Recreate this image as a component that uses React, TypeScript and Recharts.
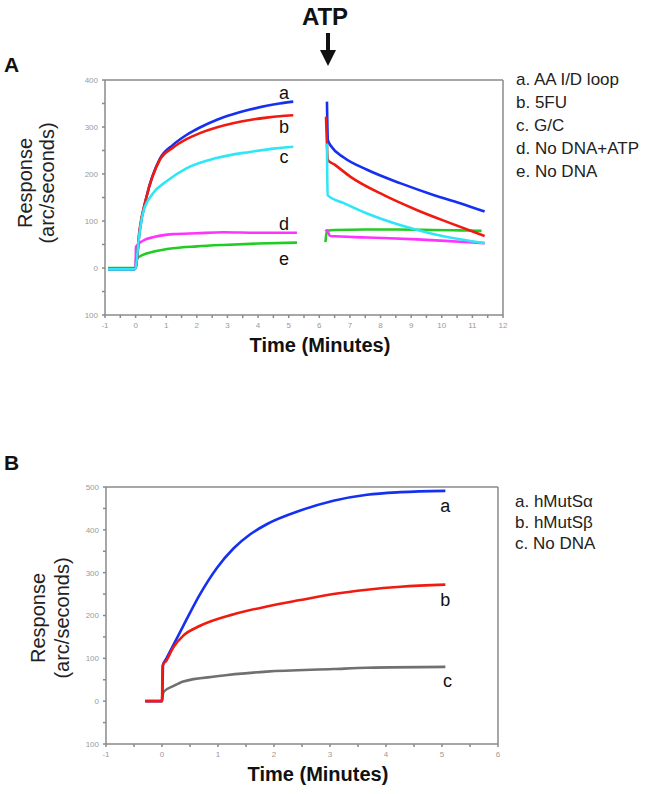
import React from 'react';
import { Line, LineChart, ReferenceDot, ReferenceLine, XAxis, YAxis } from 'recharts';

const FONT = '"Liberation Sans", Arial, Helvetica, sans-serif';

// ---- Panel A: time (min) / response (arc/seconds), before and after ATP ----
const aBlueT = [-0.9, -0.05, 0, 0.13, 0.35, 0.79, 1.22, 1.66, 2.1, 2.64, 3.18, 3.73, 4.28, 4.7, 5.15];
const aBlueV = [-3, -3, 0, 78, 150, 232, 262, 283, 299, 315, 327, 337, 345, 350, 354];
const aBlueAtpT = [6.25, 6.28, 6.4, 6.8, 7.56, 8.66, 9.75, 10.6, 11.4];
const aBlueAtpV = [354, 272, 258, 235, 209, 180, 155, 138, 120];

const aRedT = [-0.9, -0.05, 0, 0.13, 0.35, 0.79, 1.22, 1.66, 2.1, 2.64, 3.18, 3.73, 4.28, 4.7, 5.15];
const aRedV = [-2, -2, 0, 82, 150, 230, 256, 274, 287, 299, 308, 315, 320, 323, 325];
const aRedAtpT = [6.22, 6.28, 6.5, 7.02, 8.11, 9.2, 10.3, 11.4];
const aRedAtpV = [322, 230, 220, 194, 155, 123, 95, 68];

const aCyanT = [-0.9, -0.05, 0, 0.1, 0.24, 0.57, 1.0, 1.66, 2.64, 3.73, 4.5, 5.15];
const aCyanV = [-3, -3, 0, 60, 117, 159, 184, 212, 234, 247, 254, 258];
const aCyanAtpT = [6.25, 6.27, 6.8, 7.56, 8.66, 9.75, 10.6, 11.4];
const aCyanAtpV = [265, 155, 138, 116, 91, 72, 61, 53];

const aMagentaT = [-0.9, -0.05, 0, 0.01, 0.24, 0.6, 1.22, 2, 2.86, 4, 5.27];
const aMagentaV = [-3, -3, 0, 45, 58, 66, 72, 74, 76, 75, 75];
const aMagentaAtpT = [6.2, 6.25, 6.35, 7.56, 9.2, 10.6, 11.4];
const aMagentaAtpV = [78, 80, 68, 65, 61, 56, 53];

const aGreenT = [-0.9, -0.05, 0, 0.01, 0.24, 0.6, 1.22, 2, 2.86, 4, 5.27];
const aGreenV = [0, 0, 0, 18, 28, 35, 42, 46, 49, 52, 54];
const aGreenAtpT = [6.2, 6.25, 6.5, 7.5, 8.6, 9.7, 10.6, 11.3];
const aGreenAtpV = [55, 79, 81, 82, 82, 81, 80, 79];

const aGapT = 5.7; // no readings while ATP is added

const aLegend = ['a. AA I/D loop', 'b. 5FU', 'c. G/C', 'd. No DNA+ATP', 'e. No DNA'];
const aXTicks = [-1, -0.5, 0, 0.5, 1, 1.5, 2, 2.5, 3, 3.5, 4, 4.5, 5, 5.5, 6, 6.5, 7, 7.5, 8, 8.5, 9, 9.5, 10, 10.5, 11, 11.5, 12];
const aYTicks = [-100, -50, 0, 50, 100, 150, 200, 250, 300, 350, 400];

// ---- Panel B ----
const bBlueT = [-0.3, 0, 0.02, 0.08, 0.38, 0.68, 0.98, 1.28, 1.57, 1.87, 2.47, 3.06, 3.66, 4.26, 5.06];
const bBlueV = [0, 0, 85, 100, 176, 250, 311, 357, 389, 413, 445, 468, 482, 488, 491];
const bRedT = [-0.3, 0, 0.01, 0.08, 0.2, 0.38, 0.68, 1.28, 1.87, 2.47, 3.06, 3.66, 4.26, 5.06];
const bRedV = [0, 0, 83, 95, 125, 153, 176, 203, 221, 236, 250, 260, 267, 272];
const bGrayT = [0, 0.03, 0.2, 0.38, 0.98, 1.87, 3.06, 3.66, 5.06];
const bGrayV = [0, 22, 35, 46, 58, 69, 75, 78, 80];

const bLegend = ['a. hMutSα', 'b. hMutSβ', 'c. No DNA'];
const bXTicks = [-1, -0.5, 0, 0.5, 1, 1.5, 2, 2.5, 3, 3.5, 4, 4.5, 5, 5.5, 6];
const bYTicks = [-100, -50, 0, 50, 100, 150, 200, 250, 300, 350, 400, 450, 500];

// curve letters, placed in data units
const aCurveLabels = [
  { id: 'a', t: 4.85, v: 374 },
  { id: 'b', t: 4.85, v: 300 },
  { id: 'c', t: 4.85, v: 236 },
  { id: 'd', t: 4.85, v: 94 },
  { id: 'e', t: 4.85, v: 19 },
];
const bCurveLabels = [
  { id: 'a', t: 5.06, v: 456 },
  { id: 'b', t: 5.06, v: 238 },
  { id: 'c', t: 5.1, v: 47 },
];

type Pt = { t: number; v: number | null };
const zip = (t: number[], v: number[]): Pt[] => t.map((x, i) => ({ t: x, v: v[i] }));
const withGap = (t: number[], v: number[], t2: number[], v2: number[]): Pt[] => [
  ...zip(t, v),
  { t: aGapT, v: null },
  ...zip(t2, v2),
];

const seriesA = [
  { key: 'e', color: '#22cc22', data: withGap(aGreenT, aGreenV, aGreenAtpT, aGreenAtpV) },
  { key: 'd', color: '#ff33ff', data: withGap(aMagentaT, aMagentaV, aMagentaAtpT, aMagentaAtpV) },
  { key: 'a', color: '#1530f0', data: withGap(aBlueT, aBlueV, aBlueAtpT, aBlueAtpV) },
  { key: 'b', color: '#f01a10', data: withGap(aRedT, aRedV, aRedAtpT, aRedAtpV) },
  { key: 'c', color: '#2ee6f5', data: withGap(aCyanT, aCyanV, aCyanAtpT, aCyanAtpV) },
];
const seriesB = [
  { key: 'c', color: '#707070', data: zip(bGrayT, bGrayV) },
  { key: 'a', color: '#1530f0', data: zip(bBlueT, bBlueV) },
  { key: 'b', color: '#f01a10', data: zip(bRedT, bRedV) },
];

const AXIS = '#8a8a8a';
const fmtX = (v: number) => (Number.isInteger(v) ? String(v) : '');
const fmtY = (v: number) => (v % 100 === 0 ? String(Math.abs(v)) : '');
const tickStyle = { fontSize: 8, fill: '#9a9a9a', fontFamily: FONT };

function Panel({
  series,
  xDomain,
  xTicks,
  yDomain,
  yTicks,
  labels,
  width,
  height,
  top,
  yWidth,
}: {
  series: { key: string; color: string; data: Pt[] }[];
  xDomain: [number, number];
  xTicks: number[];
  yDomain: [number, number];
  yTicks: number[];
  labels: { id: string; t: number; v: number }[];
  width: number;
  height: number;
  top: number;
  yWidth: number;
}) {
  return (
    <LineChart width={width} height={height} margin={{ top, right: 17, bottom: 0, left: 0 }}>
      <XAxis
        type="number"
        dataKey="t"
        domain={xDomain}
        ticks={xTicks}
        tickFormatter={fmtX}
        interval={0}
        height={45}
        tickSize={3}
        tickMargin={4}
        stroke={AXIS}
        strokeWidth={1.5}
        tick={tickStyle}
        label={{
          value: 'Time (Minutes)',
          position: 'insideBottom',
          offset: 8,
          dx: 16,
          fontSize: 20,
          fontWeight: 'bold',
          fill: '#111',
          fontFamily: FONT,
        }}
      />
      <YAxis
        type="number"
        domain={yDomain}
        ticks={yTicks}
        tickFormatter={fmtY}
        interval={0}
        width={yWidth}
        tickSize={3}
        tickMargin={4}
        stroke={AXIS}
        strokeWidth={1.5}
        tick={tickStyle}
      />
      <ReferenceLine y={yDomain[1]} stroke={AXIS} strokeWidth={1.5} />
      <ReferenceLine x={xDomain[1]} stroke={AXIS} strokeWidth={1.5} />
      {series.map((s) => (
        <Line
          key={s.key}
          data={s.data}
          dataKey="v"
          type="monotone"
          stroke={s.color}
          strokeWidth={2.6}
          dot={false}
          connectNulls={false}
          isAnimationActive={false}
        />
      ))}
      {labels.map((l) => (
        <ReferenceDot
          key={l.id}
          x={l.t}
          y={l.v}
          r={1}
          fill="none"
          stroke="none"
          label={{ value: l.id, position: 'center', fontSize: 18, fill: '#111', fontFamily: FONT }}
        />
      ))}
    </LineChart>
  );
}

export default function App() {
  return (
    <div style={{ position: 'absolute', left: 0, top: 0, width: 662, height: 794, background: '#fff', fontFamily: FONT }}>
      <div style={{ position: 'absolute', left: 0, top: 0 }}>
        <Panel
          series={seriesA}
          xDomain={[-1, 12]}
          xTicks={aXTicks}
          yDomain={[-100, 400]}
          yTicks={aYTicks}
          labels={aCurveLabels}
          width={520}
          height={360}
          top={80}
          yWidth={105}
        />
      </div>
      <div style={{ position: 'absolute', left: 0, top: 440 }}>
        <Panel
          series={seriesB}
          xDomain={[-1, 6]}
          xTicks={bXTicks}
          yDomain={[-100, 500]}
          yTicks={bYTicks}
          labels={bCurveLabels}
          width={515}
          height={349}
          top={47}
          yWidth={106}
        />
      </div>
      <svg
        width={662}
        height={794}
        style={{ position: 'absolute', left: 0, top: 0, pointerEvents: 'none' }}
        fontFamily={FONT}
      >
        <text x={4} y={72} fontSize={21} fontWeight="bold" fill="#111">A</text>
        <text x={4} y={470} fontSize={21} fontWeight="bold" fill="#111">B</text>
        <text x={325} y={25} fontSize={24} fontWeight="bold" fill="#111" textAnchor="middle">ATP</text>
        <line x1={328} y1={33} x2={328} y2={52} stroke="#111" strokeWidth={4} />
        <polygon points="320,50 336,50 328,66" fill="#111" />

        <text transform="translate(25,183) rotate(-90)" textAnchor="middle" dominantBaseline="central" fontSize={20} fill="#222">Response</text>
        <text transform="translate(47,183) rotate(-90)" textAnchor="middle" dominantBaseline="central" fontSize={20} fill="#222">(arc/seconds)</text>
        <text transform="translate(38,618) rotate(-90)" textAnchor="middle" dominantBaseline="central" fontSize={20} fill="#222">Response</text>
        <text transform="translate(62,618) rotate(-90)" textAnchor="middle" dominantBaseline="central" fontSize={20} fill="#222">(arc/seconds)</text>

        {aLegend.map((s, i) => (
          <text key={s} x={516} y={85 + i * 23} fontSize={17} fill="#222">{s}</text>
        ))}
        {bLegend.map((s, i) => (
          <text key={s} x={515} y={507 + i * 21} fontSize={17} fill="#222">{s}</text>
        ))}
      </svg>
    </div>
  );
}
